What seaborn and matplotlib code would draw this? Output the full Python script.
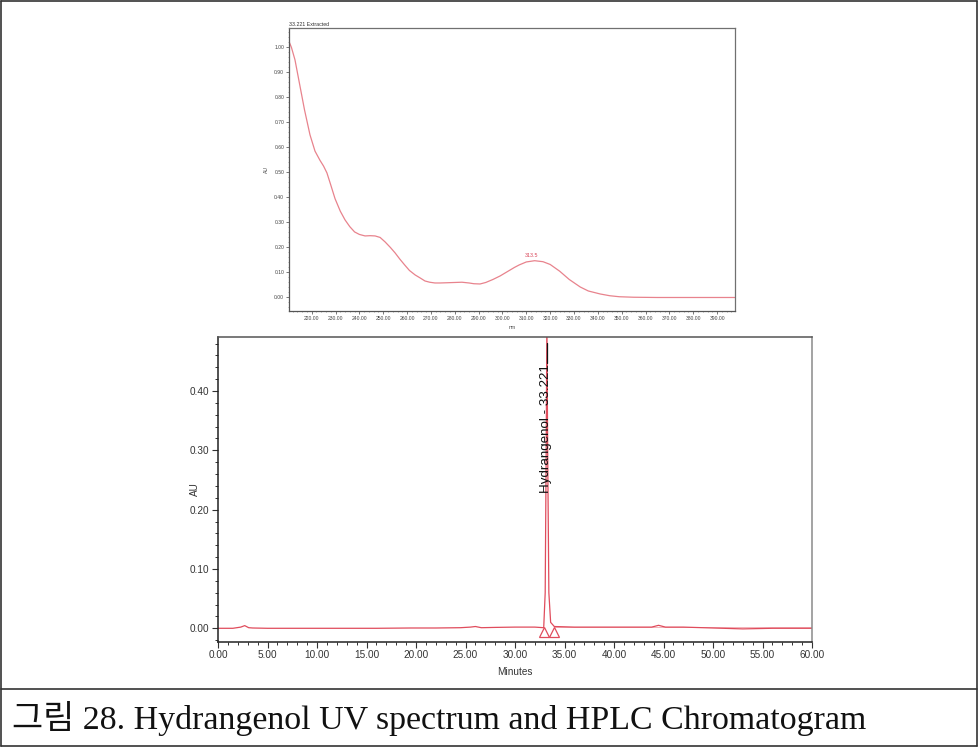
import matplotlib
matplotlib.use("Agg")
import matplotlib.pyplot as plt
from matplotlib.lines import Line2D
from matplotlib.ticker import MultipleLocator, FormatStrFormatter
import numpy as np
import pandas as pd
import seaborn as sns

# --- UV spectrum of the extracted peak (wavelength in nm, absorbance in AU)
uv_wavelength = [210.5, 211.5, 213, 215, 217, 219.3, 221.4, 223.5, 225, 226.4,
                 228, 229.8, 232, 234, 236, 238, 240, 242.4, 244.5, 246.6,
                 248.7, 250.8, 253, 255, 257, 259, 261, 263.4, 265.5, 267.5,
                 269.5, 271.7, 273.8, 277, 280, 283, 286, 288, 290.6, 293,
                 296, 299, 302, 305, 307, 310, 313.5, 317, 320, 324,
                 328, 332.6, 336, 341, 345, 349, 355, 365, 375, 385, 397.5]
uv_absorbance = [1.023, 1.00, 0.95, 0.85, 0.75, 0.65, 0.585, 0.548, 0.525, 0.498,
                 0.45, 0.395, 0.345, 0.31, 0.283, 0.262, 0.252, 0.246, 0.247, 0.246,
                 0.240, 0.222, 0.200, 0.178, 0.153, 0.130, 0.108, 0.090, 0.078, 0.066,
                 0.061, 0.058, 0.058, 0.059, 0.060, 0.061, 0.058, 0.055, 0.054, 0.060,
                 0.072, 0.086, 0.103, 0.120, 0.130, 0.142, 0.147, 0.143, 0.132, 0.105,
                 0.072, 0.042, 0.026, 0.014, 0.007, 0.003, 0.001, 0.000, 0.000, 0.000, 0.000]
uv_peak_nm = 313.5
uv_peak_au = 0.147
uv_title = "33.221 Extracted"

# --- HPLC chromatogram (retention time in minutes, absorbance in AU)
rt_minutes = [0.0, 1.5, 2.3, 2.7, 3.1, 3.5, 5.0, 8.0, 12.0, 16.0,
              19.5, 22.0, 24.5, 25.5, 26.0, 26.6, 28.0, 30.0, 32.0, 32.90,
              33.05, 33.15, 33.221, 33.30, 33.42, 33.60, 33.97, 36.0, 40.0, 42.0,
              43.8, 44.5, 45.2, 47.0, 49.0, 51.0, 53.0, 56.0, 60.0]
rt_absorbance = [0.000, 0.000, 0.002, 0.0045, 0.001, 0.0005, 0.000, 0.000, 0.000, 0.000,
                 0.0005, 0.0005, 0.001, 0.002, 0.003, 0.001, 0.0015, 0.002, 0.002, 0.001,
                 0.060, 0.300, 0.520, 0.300, 0.060, 0.010, 0.003, 0.002, 0.002, 0.002,
                 0.002, 0.005, 0.002, 0.002, 0.001, 0.000, -0.001, 0.000, 0.000]
peak_name = "Hydrangenol"
peak_rt = 33.221
peak_start = 32.96
peak_end = 33.97

caption = "그림 28. Hydrangenol UV spectrum and HPLC Chromatogram"

sns.set_style("white")
plt.rcParams["font.family"] = ["Liberation Sans", "DejaVu Sans"]

W, H = 979, 747
fig = plt.figure(figsize=(W / 100, H / 100), dpi=100)

def box(l, t, r, b):
    return [l / W, 1 - b / H, (r - l) / W, (b - t) / H]

uv_color = "#e8838d"
lc_color = "#e04c5c"

# ---------------- UV spectrum ----------------
ax1 = fig.add_axes(box(289, 28, 735, 311))
uv = pd.DataFrame({"nm": uv_wavelength, "AU": uv_absorbance})
sns.lineplot(data=uv, x="nm", y="AU", ax=ax1, color=uv_color, lw=0.9, sort=False)
ax1.set_xlim(210.5, 397.5)
ax1.set_ylim(-0.054, 1.077)
ax1.xaxis.set_major_locator(MultipleLocator(10))
ax1.xaxis.set_major_formatter(FormatStrFormatter("%.2f"))
ax1.yaxis.set_major_locator(MultipleLocator(0.10))
ax1.yaxis.set_major_formatter(FormatStrFormatter("%.2f"))
ax1.xaxis.set_minor_locator(MultipleLocator(2))
ax1.yaxis.set_minor_locator(MultipleLocator(0.02))
ax1.set_xticks([v for v in range(220, 400, 10)])
ax1.tick_params(which="major", length=2, width=0.5, labelsize=3.6,
                colors="#444444", pad=1.5, left=True, bottom=True)
ax1.tick_params(which="minor", length=1, width=0.4, colors="#666666",
                left=True, bottom=True)
ax1.set_xlabel("nm", fontsize=3.6, color="#444444", labelpad=3)
ax1.set_ylabel("AU", fontsize=3.6, color="#444444", labelpad=4)
for side, sp in ax1.spines.items():
    sp.set_linewidth(0.9)
    sp.set_color("#707070")
ax1.spines["left"].set_color("#555555")
ax1.spines["bottom"].set_color("#555555")
ax1.text(0.0, 1.004, uv_title, transform=ax1.transAxes, fontsize=3.8,
         color="#333333", ha="left", va="bottom")
ax1.text(uv_peak_nm - 1.5, uv_peak_au + 0.01, f"{uv_peak_nm:.1f}", fontsize=3.8,
         color="#d9475a", ha="center", va="bottom")
ax1.text(556, 327, "-", transform=None, fontsize=4, color="#444444")

# ---------------- HPLC chromatogram ----------------
ax2 = fig.add_axes(box(218, 337, 812, 641.7))
lc = pd.DataFrame({"Minutes": rt_minutes, "AU": rt_absorbance})
sns.lineplot(data=lc, x="Minutes", y="AU", ax=ax2, color=lc_color, lw=0.9, sort=False)
ax2.plot([peak_start, peak_end], [-0.006, -0.006], ls="none", marker="^",
         ms=7, mfc="none", mec=lc_color, mew=0.9)
ax2.axhline(0.0015, xmin=peak_end / 60, xmax=1, color=lc_color, lw=0.6, alpha=0.5)
ax2.set_xlim(0, 60)
ax2.set_ylim(-0.0226, 0.491)
ax2.xaxis.set_major_locator(MultipleLocator(5))
ax2.xaxis.set_minor_locator(MultipleLocator(1))
ax2.xaxis.set_major_formatter(FormatStrFormatter("%.2f"))
ax2.yaxis.set_major_locator(MultipleLocator(0.10))
ax2.yaxis.set_minor_locator(MultipleLocator(0.02))
ax2.yaxis.set_major_formatter(FormatStrFormatter("%.2f"))
ax2.set_yticks([0.0, 0.1, 0.2, 0.3, 0.4])
ax2.tick_params(which="major", length=4, width=0.8, labelsize=7.2,
                colors="#333333", pad=2, left=True, bottom=True)
ax2.tick_params(which="minor", length=2, width=0.7, colors="#333333",
                left=True, bottom=True)
ax2.set_xlabel("Minutes", fontsize=7.2, color="#333333", labelpad=5)
ax2.set_ylabel("AU", fontsize=7.2, color="#333333")
ax2.yaxis.set_label_coords(-0.030, 0.50)
ax2.spines["left"].set_color("#222222")
ax2.spines["bottom"].set_color("#222222")
ax2.spines["top"].set_color("#555555")
ax2.spines["right"].set_color("#8a8a8a")
for sp in ax2.spines.values():
    sp.set_linewidth(1.1)
ax2.text(peak_rt - 0.1, 0.336, f"{peak_name} - {peak_rt:.3f}", rotation=90,
         fontsize=9.6, color="#111111", ha="center", va="center")
ax2.plot([peak_rt, peak_rt], [0.447, 0.481], color="#111111", lw=0.9)

# ---------------- frame and caption ----------------
frame_kw = dict(color="#333333", lw=1.2, transform=fig.transFigure)
for (x0, y0, x1, y1) in [(1, 1, 977, 1), (1, 746, 977, 746), (1, 1, 1, 746),
                          (977, 1, 977, 746), (1, 689, 977, 689)]:
    fig.add_artist(Line2D([x0 / W, x1 / W], [1 - y0 / H, 1 - y1 / H], **frame_kw))

fig.text(12 / W, 1 - 719 / H, caption, fontsize=24.4,
         family=["Liberation Serif", "Noto Sans CJK KR"], color="#111111",
         ha="left", va="center")

fig.savefig("out.png", dpi=100)
